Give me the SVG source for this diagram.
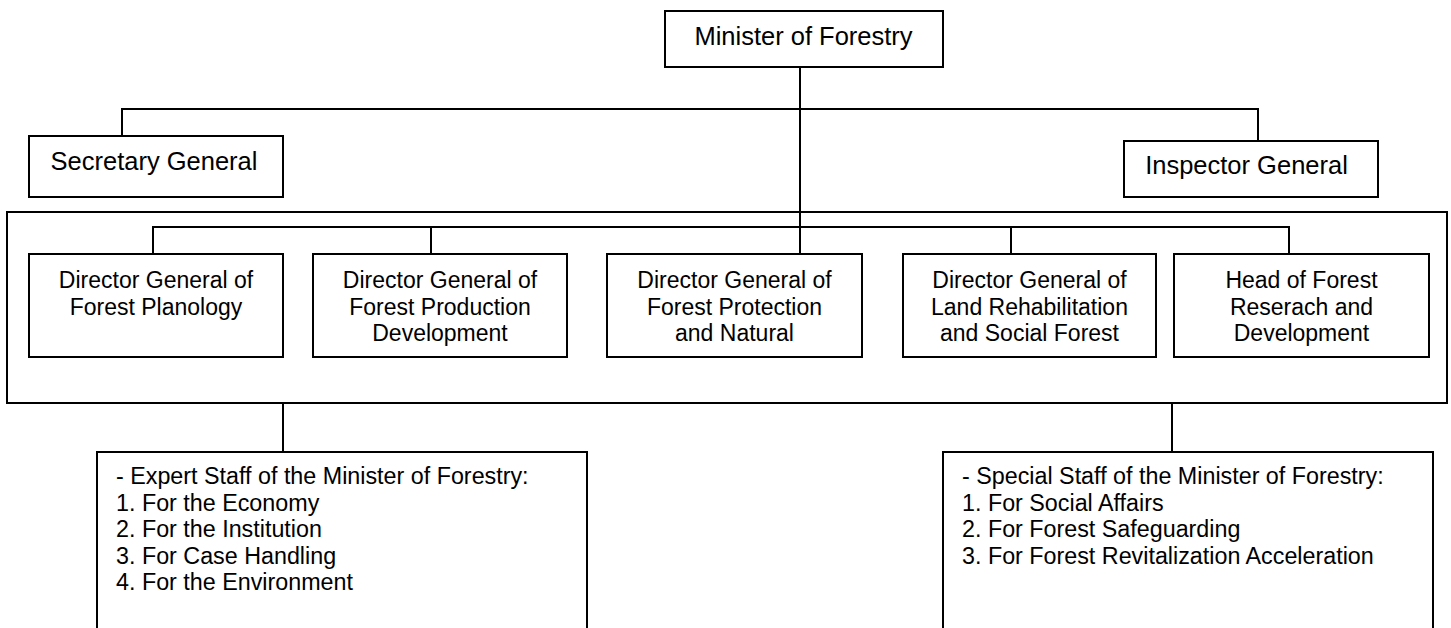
<svg xmlns="http://www.w3.org/2000/svg" width="1451" height="628" viewBox="0 0 1451 628">
<style>
.box{fill:#fff;stroke:#000;stroke-width:2}
.frame{fill:none;stroke:#000;stroke-width:2}
.conn{fill:none;stroke:#000;stroke-width:2}
.t{font-family:"Liberation Sans",Arial,sans-serif;fill:#000}
.big{font-size:25.5px;text-anchor:middle}
.mid{font-size:23px;text-anchor:middle}
.list{font-size:23.3px}
</style>
<rect width="1451" height="628" fill="#fff"/>
<g id="directorate-frame">
<rect class="frame" x="7" y="212" width="1440" height="191"/>
</g>
<g id="connectors">
<path class="conn" d="M800,67 V254"/>
<path class="conn" d="M122,136 V109 H1258 V141"/>
<path class="conn" d="M153,254 V227 H1289 V254"/>
<path class="conn" d="M431,227 V254"/>
<path class="conn" d="M1011,227 V254"/>
<path class="conn" d="M283,403 V452"/>
<path class="conn" d="M1172,403 V452"/>
</g>
<g id="minister">
<rect class="box" x="665" y="11" width="278" height="56"/>
<text class="t big" x="803.5" y="45">Minister of Forestry</text>
</g>
<g id="secretary-general">
<rect class="box" x="29" y="136" width="254" height="61"/>
<text class="t big" x="154" y="170">Secretary General</text>
</g>
<g id="inspector-general">
<rect class="box" x="1124" y="141" width="254" height="56"/>
<text class="t big" x="1246.5" y="174">Inspector General</text>
</g>
<g id="dg-planology">
<rect class="box" x="29" y="254" width="254" height="103"/>
<text class="t mid" x="156" y="288"><tspan x="156">Director General of</tspan><tspan x="156" dy="26.5">Forest Planology</tspan></text>
</g>
<g id="dg-production">
<rect class="box" x="313" y="254" width="254" height="103"/>
<text class="t mid" x="440" y="288"><tspan x="440">Director General of</tspan><tspan x="440" dy="26.5">Forest Production</tspan><tspan x="440" dy="26.5">Development</tspan></text>
</g>
<g id="dg-protection">
<rect class="box" x="607" y="254" width="255" height="103"/>
<text class="t mid" x="734.5" y="288"><tspan x="734.5">Director General of</tspan><tspan x="734.5" dy="26.5">Forest Protection</tspan><tspan x="734.5" dy="26.5">and Natural</tspan></text>
</g>
<g id="dg-rehabilitation">
<rect class="box" x="903" y="254" width="253" height="103"/>
<text class="t mid" x="1029.5" y="288"><tspan x="1029.5">Director General of</tspan><tspan x="1029.5" dy="26.5">Land Rehabilitation</tspan><tspan x="1029.5" dy="26.5">and Social Forest</tspan></text>
</g>
<g id="head-research">
<rect class="box" x="1174" y="254" width="255" height="103"/>
<text class="t mid" x="1301.5" y="288"><tspan x="1301.5">Head of Forest</tspan><tspan x="1301.5" dy="26.5">Reserach and</tspan><tspan x="1301.5" dy="26.5">Development</tspan></text>
</g>
<g id="expert-staff">
<path class="box" d="M97,640 V452 H587 V640"/>
<text class="t list" x="116" y="484"><tspan x="116">- Expert Staff of the Minister of Forestry:</tspan><tspan x="116" dy="26.5">1. For the Economy</tspan><tspan x="116" dy="26.5">2. For the Institution</tspan><tspan x="116" dy="26.5">3. For Case Handling</tspan><tspan x="116" dy="26.5">4. For the Environment</tspan></text>
</g>
<g id="special-staff">
<path class="box" d="M943,640 V452 H1433 V640"/>
<text class="t list" x="962" y="484"><tspan x="962">- Special Staff of the Minister of Forestry:</tspan><tspan x="962" dy="26.5">1. For Social Affairs</tspan><tspan x="962" dy="26.5">2. For Forest Safeguarding</tspan><tspan x="962" dy="26.5">3. For Forest Revitalization Acceleration</tspan></text>
</g>
</svg>
